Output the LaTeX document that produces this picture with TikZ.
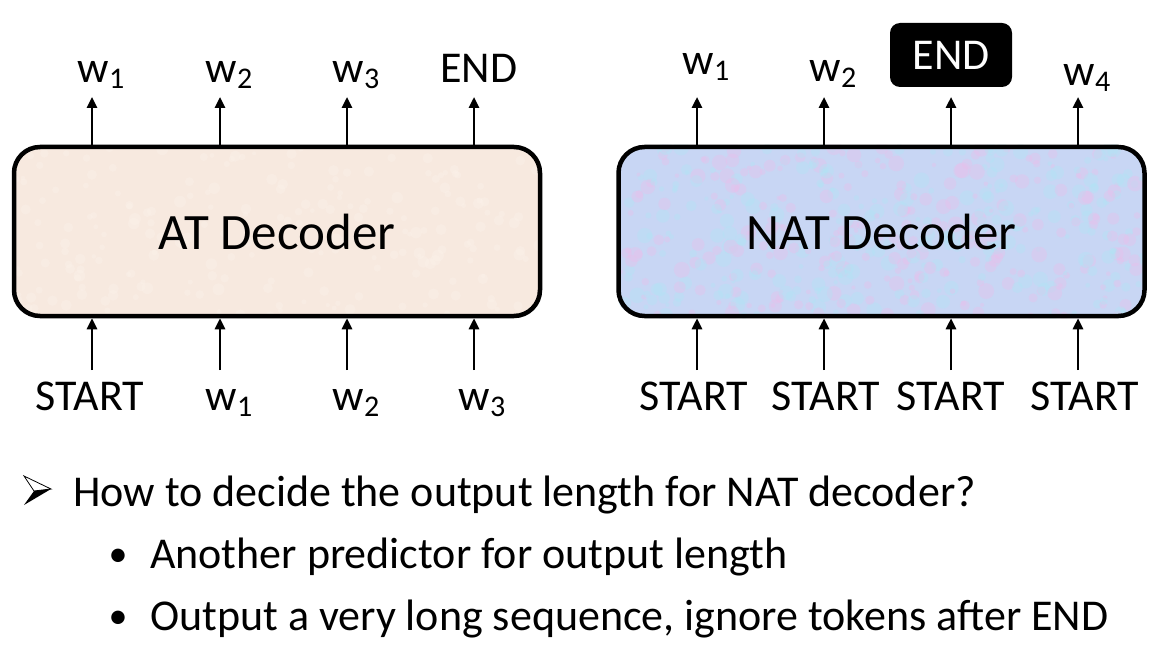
\documentclass[tikz,border=0pt]{standalone}
\usepackage{fontspec}
\setmainfont{Carlito}
\usetikzlibrary{arrows.meta}
\definecolor{atfill}{RGB}{247,233,223}
\definecolor{natfill}{RGB}{200,214,244}
\definecolor{natpink}{RGB}{235,190,235}
\definecolor{natcyan}{RGB}{175,230,245}
\definecolor{atspot}{RGB}{252,242,235}
\newcommand\wsub[1]{w\raisebox{-6pt}{\fontsize{30}{30}\selectfont #1}}
\begin{document}
\begin{tikzpicture}[x=1pt,y=-1pt,
  decbox/.style={line width=4.5pt, rounded corners=26pt,
    minimum width=526pt, minimum height=169pt, inner sep=0pt,
    font=\fontsize{51}{57}\selectfont},
  arr/.style={line width=2.6pt, -{Triangle[width=10pt,length=11pt]}},
  tok/.style={font=\fontsize{44}{50}\selectfont, inner sep=0pt, anchor=base},
  txt/.style={font=\fontsize{44}{50}\selectfont, inner sep=0pt, anchor=base west},
  dot/.style={font=\fontsize{38}{44}\selectfont, inner sep=0pt, anchor=base},
  endbox/.style={fill=black, text=white, rounded corners=10pt,
    minimum width=122pt, minimum height=64pt, inner sep=0pt,
    font=\fontsize{44}{50}\selectfont}
]
\useasboundingbox (0,0) rectangle (1161,652);

% decoder boxes (fill + texture, then outline and text)
\node[decbox, fill=atfill] (at) at (277,231.5) {};
\node[decbox, fill=natfill] (nat) at (881.5,231.5) {};
\pgfmathsetseed{7}
\begin{scope}
  \clip[rounded corners=26pt] (at.south west) rectangle (at.north east);
  \foreach \i in {1,...,220}{
    \fill[atspot, opacity=0.35] (14+526*rnd, 147+169*rnd) circle (2+4*rnd);
  }
\end{scope}
\begin{scope}
  \clip[rounded corners=26pt] (nat.south west) rectangle (nat.north east);
  \foreach \i in {1,...,260}{
    \fill[natpink, opacity=0.35] (618+526*rnd, 147+169*rnd) circle (2+6*rnd);
    \fill[natcyan, opacity=0.35] (618+526*rnd, 147+169*rnd) circle (2+6*rnd);
  }
\end{scope}
\node[decbox, draw=black] (atl) at (at.center) {AT Decoder};
\node[decbox, draw=black] (natl) at (nat.center) {NAT Decoder};

% AT output tokens
\node[tok] (ao1) at (101,83) {\wsub{1}};
\node[tok] (ao2) at (229,83) {\wsub{2}};
\node[tok] (ao3) at (356,83) {\wsub{3}};
\node[tok] (ao4) at (479,83) {END};
% AT input tokens
\node[tok] (ai1) at (90,410) {START};
\node[tok] (ai2) at (229,410) {\wsub{1}};
\node[tok] (ai3) at (356,410) {\wsub{2}};
\node[tok] (ai4) at (482,410) {\wsub{3}};

% NAT output tokens
\node[tok] (no1) at (706,75) {\wsub{1}};
\node[tok] (no2) at (833,82) {\wsub{2}};
\node[endbox] (no3) at (951,55) {END};
\node[tok] (no4) at (1087,86) {\wsub{4}};
% NAT input tokens
\node[tok] (ni1) at (694,410) {START};
\node[tok] (ni2) at (826,410) {START};
\node[tok] (ni3) at (951,410) {START};
\node[tok] (ni4) at (1085,410) {START};

% arrow coordinates
\foreach \n/\x in {a1/92,a2/220,a3/347,a4/474,n1/697,n2/824,n3/951,n4/1078}{
  \coordinate (t\n) at (\x,97);
  \coordinate (b\n) at (\x,370);
}
\foreach \n in {a1,a2,a3,a4}{
  \draw[arr] (t\n |- atl.north) -- (t\n);
  \draw[arr] (b\n) -- (b\n |- atl.south);
}
\foreach \n in {n1,n2,n3,n4}{
  \draw[arr] (t\n |- natl.north) -- (t\n);
  \draw[arr] (b\n) -- (b\n |- natl.south);
}

% arrowhead bullet
\coordinate (m0) at (34,491);
\draw[line width=0.8pt, fill=white] (m0) -- (24,476) -- (51,489) -- cycle;
\fill[black] (m0) -- (24,505) -- (51,489) -- cycle;

% bullet text
\node[txt] (l1) at (73,506) {How to decide the output length for NAT decoder?};
\node[dot] (m1) at (118,566) {•};
\node[txt] (l2) at (150,568) {Another predictor for output length};
\node[dot] (m2) at (118,628) {•};
\node[txt] (l3) at (150,630) {Output a very long sequence, ignore tokens after END};
\end{tikzpicture}
\end{document}
